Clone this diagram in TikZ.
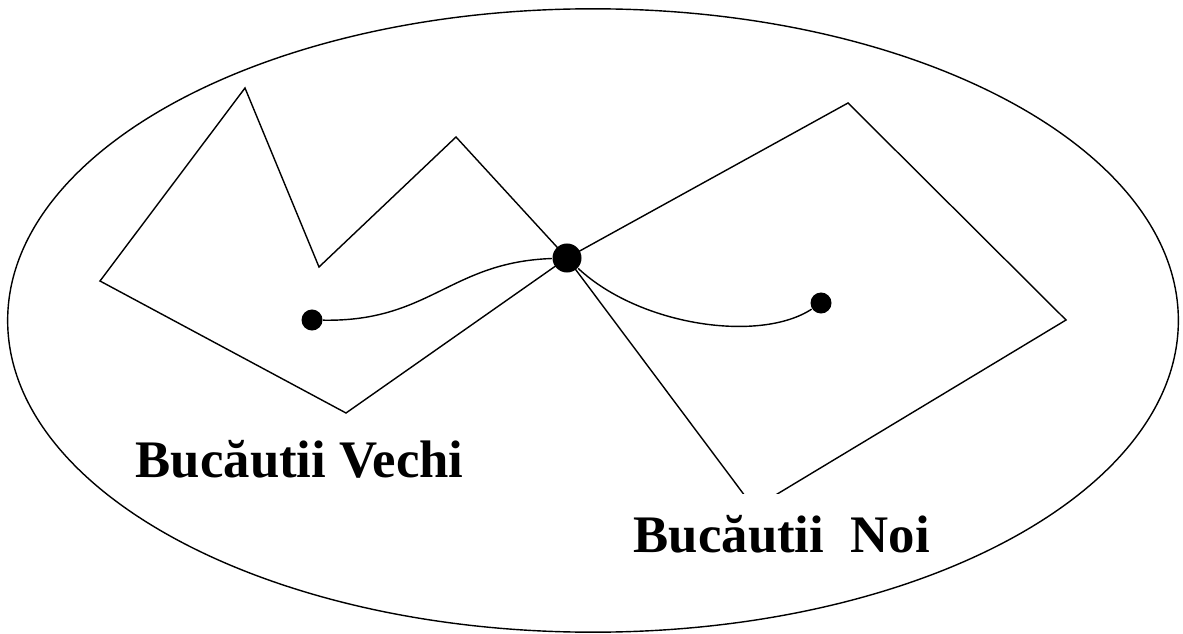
\documentclass[tikz,border=0pt]{standalone}
\usepackage{fontspec}
\setmainfont{Liberation Serif}
\usetikzlibrary{shapes.geometric}
\begin{document}
\begin{tikzpicture}[x=0.01cm,y=-0.01cm,
  thin line/.style={line width=0.4pt,black},
  dotbig/.style={circle,fill=black,inner sep=0pt,minimum size=0.29cm},
  dotsmall/.style={circle,fill=black,inner sep=0pt,minimum size=0.21cm},
  place/.style={font=\bfseries\fontsize{15pt}{18pt}\selectfont,fill=white,inner ysep=0pt,
    inner xsep=0.2cm,text height=0.58cm,text depth=0.1cm,anchor=base west}]
\useasboundingbox (0,0) rectangle (1183,634);
% outer ellipse
\node[draw,thin line,ellipse,minimum width=11.70cm,minimum height=6.23cm,inner sep=0pt] (oval) at (593,320.5) {};
% polygon vertices
\coordinate (A) at (100,281);
\coordinate (B) at (245,88);
\coordinate (C) at (319,267);
\coordinate (D) at (456,137);
\coordinate (E) at (346,413);
\coordinate (F) at (848,103);
\coordinate (H) at (1066,320);
\coordinate (G) at (754,508);
\node[dotbig] (X) at (567,258) {};
\node[dotsmall] (L) at (312,320) {};
\node[dotsmall] (R) at (821,303) {};
% old village polygon
\draw[thin line] (A) -- (B) -- (C) -- (D) -- (X.center) -- (E) -- cycle;
% new village polygon
\draw[thin line] (X.center) -- (F) -- (H) -- (G) -- cycle;
% connecting curves
\draw[thin line] (L) .. controls (430,322) and (450,262) .. (X);
\draw[thin line] (X) .. controls (640,326) and (760,343) .. (R);
% labels
\node[place] (vechi) at (115,477) {Bucăutii Vechi};
\node[place] (noi) at (613,552) {Bucăutii\ \ Noi};
\end{tikzpicture}
\end{document}
